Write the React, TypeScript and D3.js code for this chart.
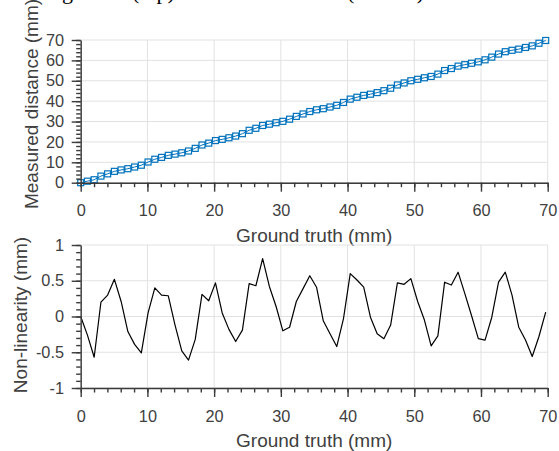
import React, { useEffect, useRef } from "react";
import * as d3 from "d3";

// ground truth positions (mm) of the 70 samples
const groundTruth = [
  0, 1.01, 2.02, 3.03, 4.04, 5.05, 6.06, 7.07, 8.08, 9.09,
  10.1, 11.11, 12.12, 13.13, 14.14, 15.15, 16.16, 17.17, 18.18, 19.19,
  20.2, 21.21, 22.22, 23.23, 24.24, 25.25, 26.26, 27.27, 28.28, 29.29,
  30.3, 31.31, 32.32, 33.33, 34.34, 35.35, 36.36, 37.37, 38.38, 39.39,
  40.4, 41.41, 42.42, 43.43, 44.44, 45.45, 46.46, 47.47, 48.48, 49.49,
  50.51, 51.52, 52.53, 53.54, 54.55, 55.56, 56.57, 57.58, 58.59, 59.6,
  60.61, 61.62, 62.63, 63.64, 64.65, 65.66, 66.67, 67.68, 68.69, 69.7,
];

// measured distance (mm)
const measured = [
  0, 0.75, 1.45, 3.23, 4.34, 5.57, 6.27, 6.86, 7.69, 8.58,
  10.15, 11.51, 12.42, 13.42, 14.02, 14.67, 15.55, 16.85, 18.49, 19.41,
  20.67, 21.26, 22.04, 22.88, 24.05, 25.71, 26.69, 28.08, 28.7, 29.43,
  30.1, 31.16, 32.53, 33.72, 34.91, 35.76, 36.3, 37.13, 37.96, 39.36,
  41.0, 41.92, 42.83, 43.42, 44.2, 45.14, 46.34, 47.94, 48.93, 50.02,
  50.72, 51.47, 52.12, 53.27, 55.03, 56.0, 57.19, 57.9, 58.6, 59.29,
  60.28, 61.61, 63.11, 64.26, 64.95, 65.51, 66.34, 67.12, 68.41, 69.76,
];

// non-linearity (mm)
const nonLinearity = [
  0, -0.26, -0.57, 0.2, 0.3, 0.52, 0.21, -0.21, -0.39, -0.51,
  0.05, 0.4, 0.3, 0.29, -0.12, -0.48, -0.61, -0.32, 0.31, 0.22,
  0.47, 0.05, -0.18, -0.35, -0.19, 0.46, 0.43, 0.81, 0.42, 0.14,
  -0.2, -0.15, 0.21, 0.39, 0.57, 0.41, -0.06, -0.24, -0.42, -0.03,
  0.6, 0.51, 0.41, -0.01, -0.24, -0.31, -0.12, 0.47, 0.45, 0.53,
  0.21, -0.05, -0.41, -0.27, 0.48, 0.44, 0.62, 0.32, 0.01, -0.31,
  -0.33, -0.01, 0.48, 0.62, 0.3, -0.15, -0.33, -0.56, -0.28, 0.06,
];

const xTicks = [0, 10, 20, 30, 40, 50, 60, 70];
const topYTicks = [0, 10, 20, 30, 40, 50, 60, 70];
const bottomYTicks = [-1, -0.5, 0, 0.5, 1];
const bottomYTickLabels = ["-1", "-0.5", "0", "0.5", "1"];

const axisColor = "#3a3a3a";
const textColor = "#404040";
const gridColor = "#e2e2e2";
const blue = "#0072BD";
const font = "'Liberation Sans', Arial, Helvetica, sans-serif";

const plotLeft = 80.7;
const plotRight = 547.7;

export default function App() {
  const svgRef = useRef(null);

  useEffect(() => {
    const svg = d3.select(svgRef.current);
    svg.selectAll("*").remove();

    const x = d3.scaleLinear().domain([0, 70]).range([plotLeft, plotRight]);

    // caption line cut off at the top of the picture
    const cap = svg
      .append("text")
      .attr("y", -0.8)
      .attr("font-family", "'Liberation Serif', 'Times New Roman', serif")
      .attr("font-size", 22)
      .attr("fill", "#000");
    cap.append("tspan").attr("x", 73).attr("text-anchor", "end").text("Tracking");
    cap.append("tspan").attr("x", 132).text("(top)");
    cap.append("tspan").attr("x", 190).text("and the deviation");
    cap.append("tspan").attr("x", 347).text("(bottom)");

    const drawPanel = ({ y0, y1, domain, yTicks, yLabels, minorX, minorY, title }) => {
      const y = d3.scaleLinear().domain(domain).range([y1, y0]);
      const g = svg.append("g");

      // grid
      g.append("g")
        .selectAll("line")
        .data(xTicks)
        .enter()
        .append("line")
        .attr("x1", (d) => x(d))
        .attr("x2", (d) => x(d))
        .attr("y1", y0)
        .attr("y2", y1)
        .attr("stroke", gridColor);
      g.append("g")
        .selectAll("line")
        .data(yTicks)
        .enter()
        .append("line")
        .attr("x1", plotLeft)
        .attr("x2", plotRight)
        .attr("y1", (d) => y(d))
        .attr("y2", (d) => y(d))
        .attr("stroke", gridColor);

      const data = g.append("g");

      // minor ticks
      g.append("g")
        .attr("transform", `translate(0,${y1})`)
        .call(d3.axisBottom(x).tickValues(minorX).tickSize(4.5).tickSizeOuter(0).tickFormat(() => ""))
        .call((a) => a.select(".domain").remove());
      g.append("g")
        .attr("transform", `translate(${plotLeft},0)`)
        .call(d3.axisLeft(y).tickValues(minorY).tickSize(4.5).tickSizeOuter(0).tickFormat(() => ""))
        .call((a) => a.select(".domain").remove());

      // major ticks
      const xa = g
        .append("g")
        .attr("transform", `translate(0,${y1})`)
        .call(d3.axisBottom(x).tickValues(xTicks).tickSize(9).tickSizeOuter(0).tickPadding(13));
      const ya = g
        .append("g")
        .attr("transform", `translate(${plotLeft},0)`)
        .call(
          d3
            .axisLeft(y)
            .tickValues(yTicks)
            .tickSize(9)
            .tickSizeOuter(0)
            .tickPadding(7.7)
            .tickFormat((d, i) => yLabels[i])
        );

      [xa, ya].forEach((a) => {
        a.attr("font-family", font).attr("font-size", 16.3).attr("color", axisColor);
        a.selectAll("text").attr("fill", textColor);
      });
      g.selectAll(".tick line, .domain").attr("stroke-width", 1.4).attr("stroke", axisColor);

      // x title
      g.append("text")
        .attr("x", (plotLeft + plotRight) / 2)
        .attr("y", y1 + 59)
        .attr("text-anchor", "middle")
        .attr("font-family", font)
        .attr("font-size", 19)
        .attr("fill", textColor)
        .text("Ground truth (mm)");

      // y title
      g.append("text")
        .attr("transform", `translate(${title.x},${title.y}) rotate(-90)`)
        .attr("text-anchor", "middle")
        .attr("font-family", font)
        .attr("font-size", 19)
        .attr("fill", textColor)
        .text(title.text);

      return { y, data };
    };

    const top = drawPanel({
      y0: 40,
      y1: 182.7,
      domain: [0, 70],
      yTicks: topYTicks,
      yLabels: topYTicks.map(String),
      minorX: d3.range(0, 71, 2),
      minorY: d3.range(0, 71, 2),
      title: { x: 37.5, y: 104, text: "Measured distance (mm)" },
    });

    top.data
      .append("path")
      .datum(groundTruth.map((g, i) => [g, measured[i]]))
      .attr("fill", "none")
      .attr("stroke", blue)
      .attr("stroke-width", 1)
      .attr("d", d3.line().x((d) => x(d[0])).y((d) => top.y(d[1])));
    top.data
      .selectAll("rect")
      .data(groundTruth.map((g, i) => [g, measured[i]]))
      .enter()
      .append("rect")
      .attr("x", (d) => x(d[0]) - 3)
      .attr("y", (d) => top.y(d[1]) - 3)
      .attr("width", 6)
      .attr("height", 6)
      .attr("fill", "none")
      .attr("stroke", blue)
      .attr("stroke-width", 1.2);

    const bottom = drawPanel({
      y0: 245,
      y1: 388,
      domain: [-1, 1],
      yTicks: bottomYTicks,
      yLabels: bottomYTickLabels,
      minorX: d3.range(0, 71, 2),
      minorY: d3.range(-10, 11, 1).map((v) => v / 10),
      title: { x: 27, y: 315, text: "Non-linearity (mm)" },
    });

    bottom.data
      .append("path")
      .datum(groundTruth.map((g, i) => [g, nonLinearity[i]]))
      .attr("fill", "none")
      .attr("stroke", "#000")
      .attr("stroke-width", 1.2)
      .attr("stroke-linejoin", "round")
      .attr("d", d3.line().x((d) => x(d[0])).y((d) => bottom.y(d[1])));
  }, []);

  return (
    <svg
      ref={svgRef}
      width={559}
      height={451}
      style={{ position: "absolute", left: 0, top: 0, background: "#fff" }}
    />
  );
}
